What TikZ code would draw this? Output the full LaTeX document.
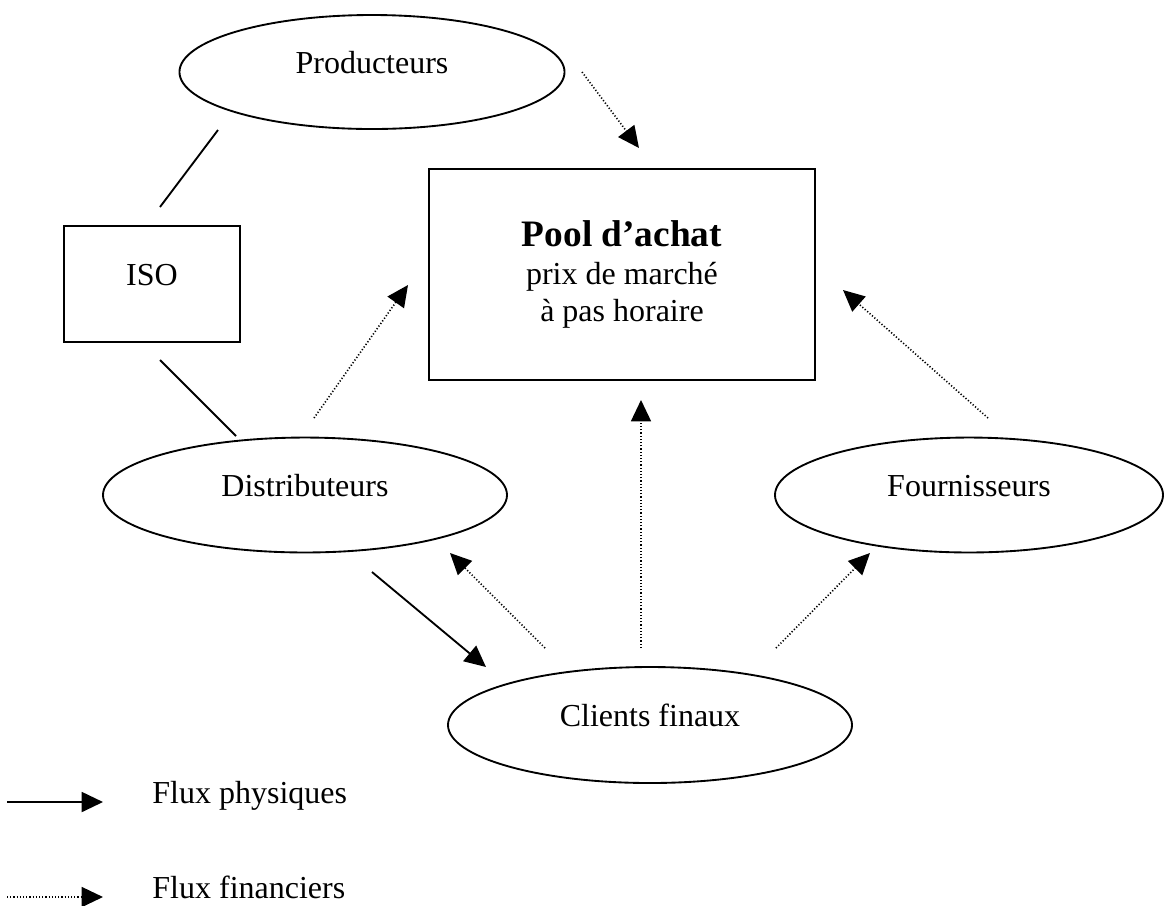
\documentclass[tikz,border=0pt]{standalone}
\usepackage{fontspec}
\setmainfont{Liberation Serif}
\usetikzlibrary{shapes.geometric, arrows.meta}

\begin{document}
\begin{tikzpicture}[x=0.375pt, y=-0.375pt,
    every node/.style={font=\fontsize{12pt}{14pt}\selectfont},
    acteur/.style={draw, ellipse, line width=0.7pt, inner sep=0pt,
        text height=8pt, text depth=6.8pt},
    boite/.style={draw, rectangle, line width=0.7pt, inner sep=0pt},
    lien/.style={line width=0.7pt},
    physique/.style={line width=0.7pt, -{Triangle[length=8pt, width=7.5pt]}},
    financier/.style={line width=0.6pt, dash pattern=on 0.45pt off 0.75pt,
        -{Triangle[length=8pt, width=7.5pt]}}]
    \useasboundingbox (0,0) rectangle (1167,905);

    % Acteurs
    \node[acteur, minimum width=144.4pt, minimum height=42.75pt] (prod) at (372,72) {Producteurs};
    \node[boite, minimum width=66pt, minimum height=43.5pt,
        text height=8pt, text depth=6.8pt] (iso) at (152,284) {ISO};
    \node[boite, minimum width=144.75pt, minimum height=79.1pt, align=center] (pool) at (622,274.5)
        {{\bfseries\fontsize{14pt}{16pt}\selectfont Pool d’achat}\\prix de marché\\à pas horaire};
    \node[acteur, minimum width=151.5pt, minimum height=43.1pt] (distr) at (305,495) {Distributeurs};
    \node[acteur, minimum width=145.5pt, minimum height=43.1pt] (fourn) at (969,495) {Fournisseurs};
    \node[acteur, minimum width=151.5pt, minimum height=43.5pt] (clients) at (650,725) {Clients finaux};

    % Extremites des liaisons
    \coordinate (pi1) at (218,130);
    \coordinate (pi2) at (160,207);
    \coordinate (id1) at (160,360);
    \coordinate (id2) at (236,436);
    \coordinate (pp1) at (582,72);
    \coordinate (pp2) at (639,148);
    \coordinate (dp1) at (314,418);
    \coordinate (dp2) at (408,285);
    \coordinate (fp1) at (988,418);
    \coordinate (fp2) at (843,290);
    \coordinate (cp1) at (641,648);
    \coordinate (cp2) at (641,400);
    \coordinate (cd1) at (545,648);
    \coordinate (cd2) at (450,553);
    \coordinate (cf1) at (776,648);
    \coordinate (cf2) at (870,553);
    \coordinate (dc1) at (372,572);
    \coordinate (dc2) at (486,667);

    % Liaisons avec l'ISO
    \draw[lien] (pi1) -- (pi2);
    \draw[lien] (id1) -- (id2);

    % Flux physiques
    \draw[physique] (dc1) -- (dc2);

    % Flux financiers
    \draw[financier] (pp1) -- (pp2);
    \draw[financier] (dp1) -- (dp2);
    \draw[financier] (fp1) -- (fp2);
    \draw[financier] (cp1) -- (cp2);
    \draw[financier] (cd1) -- (cd2);
    \draw[financier] (cf1) -- (cf2);

    % Legende
    \coordinate (la1) at (7,802);
    \coordinate (la2) at (103,802);
    \coordinate (lb1) at (7,897);
    \coordinate (lb2) at (103,897);
    \draw[physique] (la1) -- (la2);
    \draw[financier] (lb1) -- (lb2);
    \node[anchor=base west] (legphys) at (143,803) {Flux physiques};
    \node[anchor=base west] (legfin) at (143,898) {Flux financiers};
\end{tikzpicture}
\end{document}
